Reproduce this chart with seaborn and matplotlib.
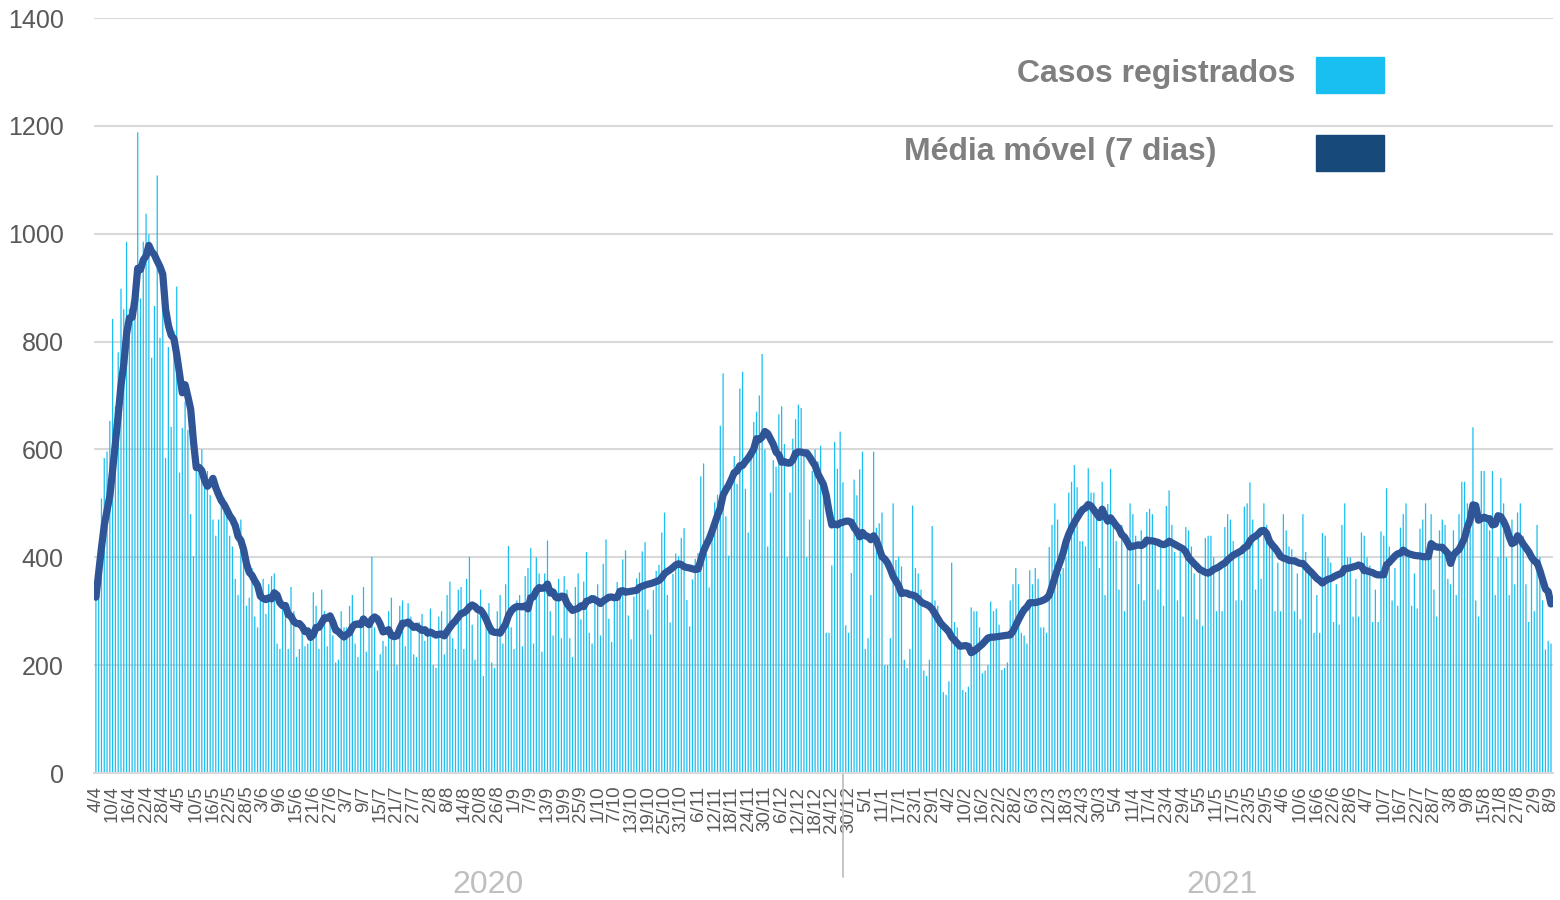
import numpy as np
import pandas as pd
import matplotlib
matplotlib.use("Agg")
import matplotlib.pyplot as plt
import seaborn as sns
from matplotlib.patches import Rectangle
from matplotlib.transforms import blended_transform_factory

# ==================================================
# DADOS - casos diarios (4/4/2020 a 8/9/2021)
# ==================================================

casos_2020 = [
    326, 418, 509, 584, 596, 653, 842,
    680, 780, 898, 860, 985, 861, 850,
    910, 1188, 880, 985, 1037, 999, 770,
    866, 1108, 807, 886, 584, 790, 642,
    820, 902, 557, 640, 689, 636, 480,
    402, 560, 560, 600, 560, 560, 515,
    470, 440, 470, 520, 510, 490, 440,
    420, 360, 330, 470, 390, 310, 325,
    380, 290, 270, 330, 360, 295, 350,
    365, 370, 240, 230, 320, 300, 230,
    345, 300, 215, 230, 280, 235, 240,
    260, 335, 310, 230, 340, 300, 235,
    290, 255, 205, 210, 300, 270, 270,
    310, 330, 240, 215, 290, 345, 225,
    280, 401, 270, 190, 220, 245, 235,
    300, 325, 255, 200, 310, 320, 235,
    315, 290, 220, 215, 280, 295, 245,
    270, 305, 200, 195, 290, 300, 220,
    330, 355, 250, 230, 340, 345, 230,
    360, 401, 275, 210, 300, 340, 180,
    290, 315, 205, 195, 300, 330, 240,
    350, 421, 270, 230, 320, 330, 235,
    365, 380, 417, 240, 400, 370, 225,
    370, 431, 300, 255, 330, 360, 250,
    365, 340, 250, 215, 345, 370, 285,
    355, 410, 260, 240, 330, 350, 255,
    388, 433, 286, 243, 320, 354, 335,
    396, 413, 292, 248, 327, 361, 372,
    411, 428, 303, 257, 339, 375, 386,
    446, 483, 330, 279, 369, 407, 402,
    436, 454, 321, 272, 359, 397, 408,
    550, 574, 406, 344, 454, 502, 516,
    644, 741, 476, 403, 532, 588, 536,
    713, 744, 527, 446, 589, 651, 670,
    700, 777, 600, 420, 520, 580, 568,
    665, 680, 610, 400, 520, 620, 656,
    683, 677, 600, 400, 470, 560, 600,
    578, 607, 530, 260, 260, 385, 614,
    564, 633, 539, 274, 260, 371,
]

casos_2021 = [
    544,
    515, 563, 596, 230, 250, 330, 596,
    455, 463, 483, 200, 200, 250, 500,
    395, 401, 383, 210, 195, 230, 496,
    380, 370, 340, 190, 180, 210, 458,
    320, 310, 280, 150, 145, 170, 390,
    280, 270, 240, 154, 150, 160, 307,
    300, 300, 270, 185, 190, 200, 318,
    300, 305, 275, 191, 195, 205, 320,
    350, 380, 350, 260, 255, 240, 376,
    350, 380, 360, 270, 270, 260, 419,
    460, 500, 470, 370, 380, 400, 520,
    540, 571, 530, 430, 430, 420, 565,
    520, 520, 480, 380, 540, 330, 499,
    564, 470, 430, 340, 460, 300, 432,
    500, 480, 440, 350, 450, 320, 484,
    490, 480, 430, 340, 430, 310, 495,
    524, 460, 410, 320, 410, 290, 456,
    450, 420, 370, 285, 370, 273, 436,
    440, 440, 400, 300, 390, 300, 456,
    480, 470, 430, 320, 410, 320, 494,
    500, 539, 470, 340, 440, 360, 500,
    460, 440, 420, 300, 390, 300, 480,
    450, 420, 415, 300, 370, 285, 480,
    410, 380, 380, 260, 330, 260, 445,
    440, 400, 390, 280, 350, 275, 460,
    500, 400, 400, 290, 360, 290, 446,
    440, 400, 385, 280, 340, 280, 448,
    440, 528, 420, 320, 380, 310, 455,
    480, 500, 400, 310, 370, 305, 453,
    470, 500, 400, 480, 340, 290, 450,
    470, 460, 360, 350, 450, 330, 480,
    540, 540, 500, 450, 641, 320, 290,
    560, 560, 480, 450, 560, 330, 400,
    547, 500, 400, 330, 470, 350, 483,
    500, 440, 350, 280, 400, 300, 460,
    400, 320, 229, 245, 240,
]

data_inicio = "2020-04-04"
data_fim = "2021-09-08"
anos = ["2020", "2021"]
nomes_series = ["Casos registrados", "Média móvel (7 dias)"]

# ==================================================
# PREPARACAO
# ==================================================

df = pd.DataFrame({
    "data": pd.date_range(data_inicio, data_fim, freq="D"),
    "casos": casos_2020 + casos_2021,
})
df["dia"] = np.arange(len(df))
df["media"] = df["casos"].rolling(7, min_periods=1).mean()

cor_barra = "#1BBEF0"
cor_linha = "#2F5597"
cor_legenda_linha = "#17497A"
cor_texto = "#595959"
cor_grade = "#D9D9D9"

sns.set_style("white")
plt.rcParams["font.family"] = ["Liberation Sans", "DejaVu Sans"]

# ==================================================
# GRAFICO
# ==================================================

fig = plt.figure(figsize=(15.6, 9), dpi=100)
ax = fig.add_axes([0.0604, 0.1411, 0.9349, 0.8389])

sns.barplot(
    data=df, x="dia", y="casos",
    color=cor_barra, saturation=1, width=0.45,
    errorbar=None, ax=ax, zorder=2,
    linewidth=0, snap=False
)

sns.lineplot(
    data=df, x="dia", y="media",
    color=cor_linha, linewidth=5.2,
    solid_capstyle="round", solid_joinstyle="round",
    ax=ax, zorder=3
)

ax.set_xlim(-0.6, len(df) - 0.4)
ax.set_ylim(0, 1400)
ax.set_yticks(range(0, 1401, 200))
ax.yaxis.grid(True, color=cor_grade, linewidth=1.5)
ax.set_axisbelow(True)
ax.set_xlabel("")
ax.set_ylabel("")

for lado in ["top", "right", "left"]:
    ax.spines[lado].set_visible(False)
ax.spines["bottom"].set_color(cor_grade)
ax.spines["bottom"].set_linewidth(1.5)

# rotulos a cada 6 dias
pos = df["dia"][::6]
rot = [f"{d.day}/{d.month}" for d in df["data"][::6]]
ax.set_xticks(pos)
ax.set_xticklabels(rot, rotation=90)
ax.tick_params(axis="x", length=0, pad=9, labelsize=13.5, labelcolor=cor_texto)
ax.tick_params(axis="y", length=0, pad=22, labelsize=18, labelcolor=cor_texto)

# anos abaixo do eixo + linha divisoria
trans = blended_transform_factory(ax.transData, ax.transAxes)
sep = len(casos_2020) - 4
ax.plot([sep, sep], [0, -0.138], transform=trans, clip_on=False,
        color="#BFBFBF", linewidth=1.3)
for ano, x in zip(anos, [140.5, 404]):
    ax.text(x, -0.148, ano, transform=trans, ha="center", va="center",
            fontsize=23, color="#BFBFBF")

# legenda manual
fig.text(1295 / 1560, 1 - 82 / 900, nomes_series[0], ha="right", va="baseline",
         fontsize=23, fontweight="bold", color="#7F7F7F")
fig.text(1216 / 1560, 1 - 160 / 900, nomes_series[1], ha="right", va="baseline",
         fontsize=23, fontweight="bold", color="#7F7F7F")
fig.patches.append(Rectangle((1316 / 1560, 1 - 93 / 900), 68 / 1560, 36 / 900,
                             transform=fig.transFigure, color="#1ABFF2"))
fig.patches.append(Rectangle((1316 / 1560, 1 - 171 / 900), 68 / 1560, 36 / 900,
                             transform=fig.transFigure, color=cor_legenda_linha))

fig.savefig("out.png", dpi=100)
